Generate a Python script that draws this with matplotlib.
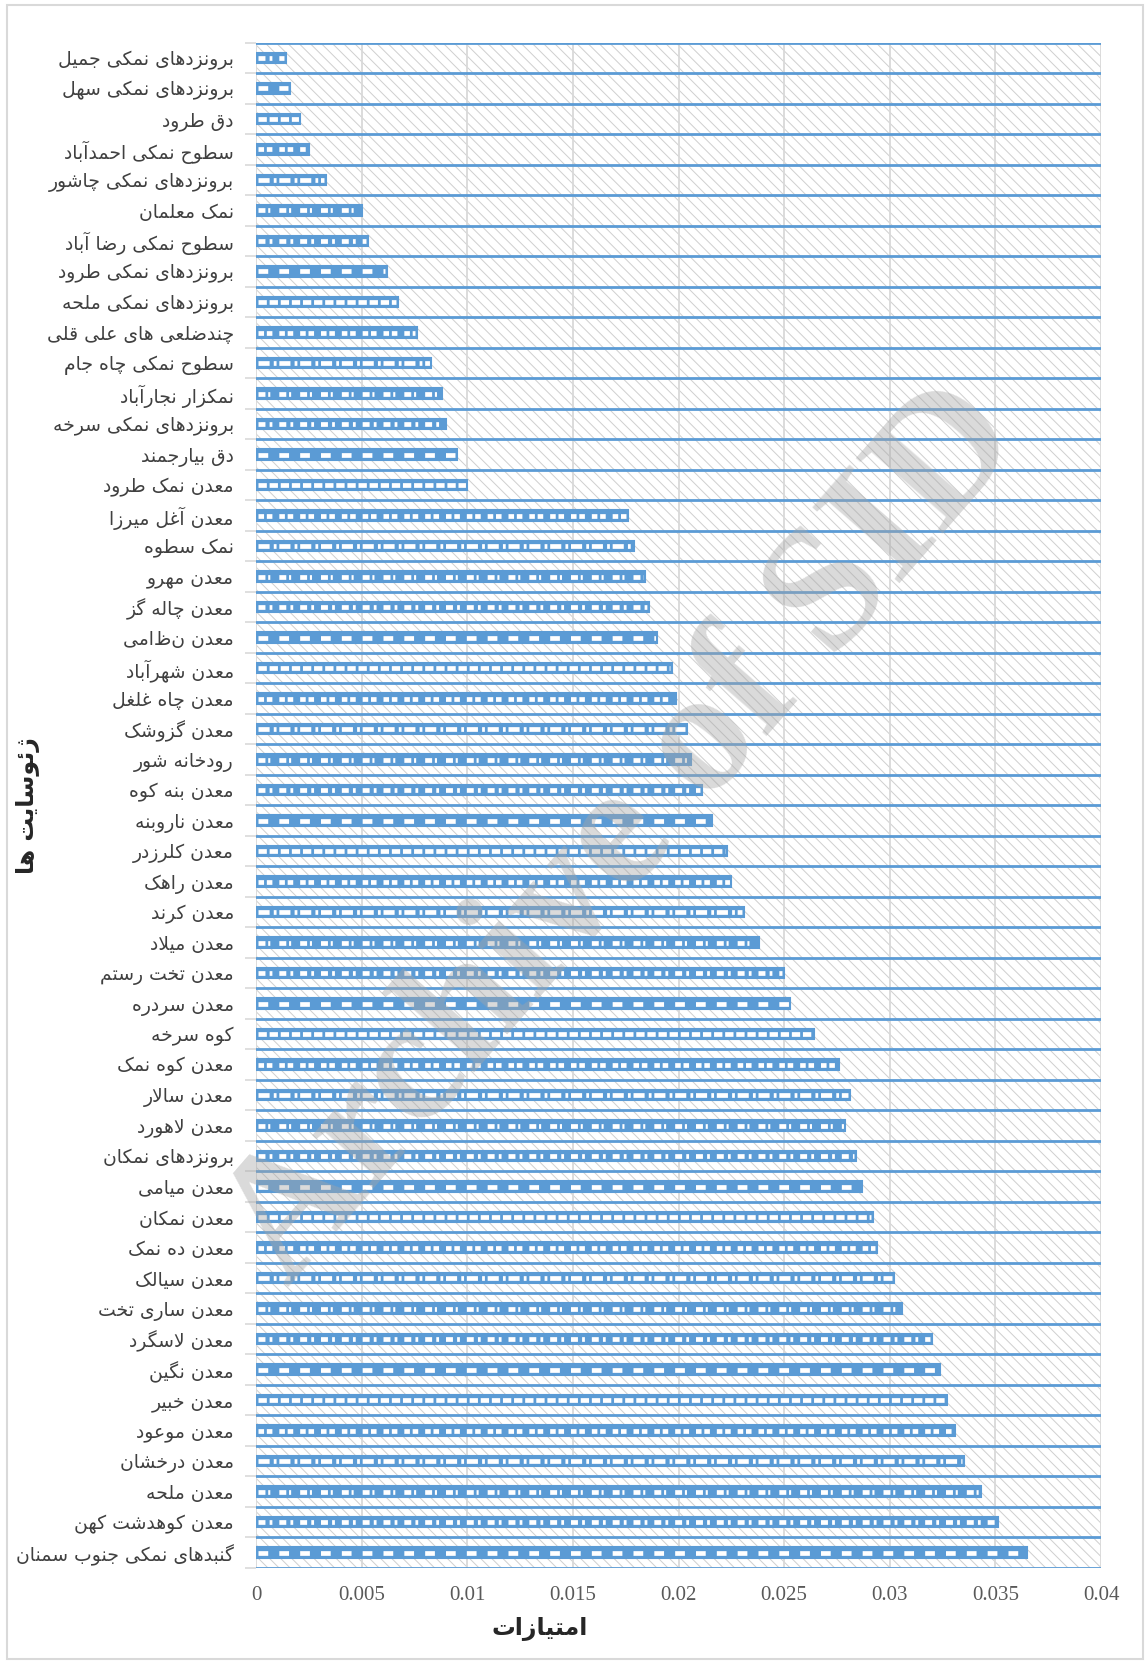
import matplotlib
matplotlib.use('Agg')
import matplotlib.pyplot as plt
from matplotlib.patches import Rectangle
from matplotlib.ticker import FixedLocator

# site names, top to bottom as in the chart
sites = [
    'برونزدهای نمکی جمیل', 'برونزدهای نمکی سهل', 'دق طرود', 'سطوح نمکی احمدآباد',
    'برونزدهای نمکی چاشور', 'نمک معلمان', 'سطوح نمکی رضا آباد', 'برونزدهای نمکی طرود',
    'برونزدهای نمکی ملحه', 'چندضلعی های علی قلی', 'سطوح نمکی چاه جام', 'نمکزار نجارآباد',
    'برونزدهای نمکی سرخه', 'دق بیارجمند', 'معدن نمک طرود', 'معدن آغل میرزا',
    'نمک سطوه', 'معدن مهرو', 'معدن چاله گز', 'معدن نظامی', 'معدن شهرآباد',
    'معدن چاه غلغل', 'معدن گزوشک', 'رودخانه شور', 'معدن بنه کوه', 'معدن ناروبنه',
    'معدن کلرزدر', 'معدن راهک', 'معدن کرند', 'معدن میلاد', 'معدن تخت رستم',
    'معدن سردره', 'کوه سرخه', 'معدن کوه نمک', 'معدن سالار', 'معدن لاهورد',
    'برونزدهای نمکان', 'معدن میامی', 'معدن نمکان', 'معدن ده نمک', 'معدن سیالک',
    'معدن ساری تخت', 'معدن لاسگرد', 'معدن نگین', 'معدن خبیر', 'معدن موعود',
    'معدن درخشان', 'معدن ملحه', 'معدن کوهدشت کهن', 'گنبدهای نمکی جنوب سمنان',
]
scores = [
    0.0014, 0.0016, 0.0021, 0.0025, 0.0033, 0.0050, 0.0053, 0.0062, 0.0067, 0.0076,
    0.0083, 0.0088, 0.0090, 0.0095, 0.0100, 0.0176, 0.0179, 0.0184, 0.0186, 0.0190,
    0.0197, 0.0199, 0.0204, 0.0206, 0.0211, 0.0216, 0.0223, 0.0225, 0.0231, 0.0238,
    0.0250, 0.0253, 0.0264, 0.0276, 0.0281, 0.0279, 0.0284, 0.0287, 0.0292, 0.0294,
    0.0302, 0.0306, 0.0320, 0.0324, 0.0327, 0.0331, 0.0335, 0.0343, 0.0351, 0.0365,
]
xticks = [0, 0.005, 0.01, 0.015, 0.02, 0.025, 0.03, 0.035, 0.04]
xtick_labels = ['0', '0.005', '0.01', '0.015', '0.02', '0.025', '0.03', '0.035', '0.04']
xlabel = 'امتیازات'
ylabel = 'ژئوسایت ها'

# matplotlib does no arabic shaping, so pick presentation forms by hand
# (isolated, final, initial, medial) - two entries = joins only to the right
FORMS = {
    'ء': ('\ufe80',),
    'آ': ('\ufe81', '\ufe82'),
    'ئ': ('\ufe89', '\ufe8a', '\ufe8b', '\ufe8c'),
    'ا': ('\ufe8d', '\ufe8e'),
    'ب': ('\ufe8f', '\ufe90', '\ufe91', '\ufe92'),
    'پ': ('\ufb56', '\ufb57', '\ufb58', '\ufb59'),
    'ت': ('\ufe95', '\ufe96', '\ufe97', '\ufe98'),
    'ج': ('\ufe9d', '\ufe9e', '\ufe9f', '\ufea0'),
    'چ': ('\ufb7a', '\ufb7b', '\ufb7c', '\ufb7d'),
    'ح': ('\ufea1', '\ufea2', '\ufea3', '\ufea4'),
    'خ': ('\ufea5', '\ufea6', '\ufea7', '\ufea8'),
    'د': ('\ufea9', '\ufeaa'),
    'ر': ('\ufead', '\ufeae'),
    'ز': ('\ufeaf', '\ufeb0'),
    'ژ': ('\ufb8a', '\ufb8b'),
    'س': ('\ufeb1', '\ufeb2', '\ufeb3', '\ufeb4'),
    'ش': ('\ufeb5', '\ufeb6', '\ufeb7', '\ufeb8'),
    'ض': ('\ufebd', '\ufebe', '\ufebf', '\ufec0'),
    'ط': ('\ufec1', '\ufec2', '\ufec3', '\ufec4'),
    'ع': ('\ufec9', '\ufeca', '\ufecb', '\ufecc'),
    'غ': ('\ufecd', '\ufece', '\ufecf', '\ufed0'),
    'ق': ('\ufed5', '\ufed6', '\ufed7', '\ufed8'),
    'ک': ('\ufb8e', '\ufb8f', '\ufb90', '\ufb91'),
    'گ': ('\ufb92', '\ufb93', '\ufb94', '\ufb95'),
    'ل': ('\ufedd', '\ufede', '\ufedf', '\ufee0'),
    'م': ('\ufee1', '\ufee2', '\ufee3', '\ufee4'),
    'ن': ('\ufee5', '\ufee6', '\ufee7', '\ufee8'),
    'ه': ('\ufee9', '\ufeea', '\ufeeb', '\ufeec'),
    'و': ('\ufeed', '\ufeee'),
    'ی': ('\ufbfc', '\ufbfd', '\ufbfe', '\ufbff'),
    '\ufefb': ('\ufefb', '\ufefc'),
}


def shape(s):
    s = s.replace('لا', '\ufefb')
    out = []
    for i, ch in enumerate(s):
        f = FORMS.get(ch)
        if f is None:
            out.append(ch)
            continue
        prev = s[i - 1] if i > 0 else ''
        nxt = s[i + 1] if i + 1 < len(s) else ''
        jp = prev in FORMS and len(FORMS[prev]) == 4
        jn = len(f) == 4 and nxt in FORMS and len(FORMS[nxt]) > 1
        if jp and jn:
            out.append(f[3])
        elif jp:
            out.append(f[1])
        elif jn:
            out.append(f[2])
        else:
            out.append(f[0])
    return ''.join(reversed(out))


blue = '#5B9BD5'
grey = '#D9D9D9'
# white dash patterns inside the bars (points)
dash_styles = [(5, 3, 2, 5), (7, 8), (6, 2), (4, 2, 4, 5), (8, 3, 2, 2), (5, 2, 1.5, 6.5)]

plt.rcParams['lines.scale_dashes'] = False
plt.rcParams['hatch.linewidth'] = 0.7

fig = plt.figure(figsize=(11.48, 16.62), dpi=100)
ax = fig.add_axes([0.2230, 0.0566, 0.7361, 0.9177])

ypos = list(range(len(sites)))
ax.barh(ypos, scores, height=0.34, color=blue, linewidth=0, zorder=3)
for i, (y, v) in enumerate(zip(ypos, scores)):
    ax.plot([0.00008, v - 0.00008], [y, y], color='white', linewidth=3.4,
            dashes=dash_styles[i % len(dash_styles)], solid_capstyle='butt',
            dash_capstyle='butt', zorder=3.5)
ax.barh(ypos, scores, height=0.34, fill=False, edgecolor=blue, linewidth=1.5, zorder=4)

# hatched plot background
ax.add_patch(Rectangle((0, 0), 1, 1, transform=ax.transAxes, facecolor='white',
                       edgecolor='#CFCFCF', hatch='\\\\\\', linewidth=0, zorder=0.1))

ax.set_xlim(0, 0.04)
ax.set_ylim(len(sites) - 0.5, -0.5)
ax.set_xticks(xticks)
ax.set_xticklabels(xtick_labels, fontfamily='Liberation Serif', fontsize=15, color='#595959')
ax.set_yticks(ypos)
ax.set_yticklabels([shape(s) for s in sites], fontfamily='DejaVu Sans', fontsize=13.5, color='#404040')
ax.yaxis.set_minor_locator(FixedLocator([i - 0.5 for i in range(len(sites) + 1)]))
ax.tick_params(axis='x', length=0, pad=13)
ax.tick_params(axis='y', which='major', length=0, pad=16)
ax.tick_params(axis='y', which='minor', length=8, color=grey, width=1.2)

ax.set_axisbelow(True)
ax.grid(axis='x', color=grey, linewidth=1.3, zorder=0.5)
ax.grid(axis='y', which='minor', color=blue, linewidth=2, zorder=2)
for sp in ax.spines.values():
    sp.set_visible(False)

fig.text(0.470, 0.0199, shape(xlabel), ha='center', va='center', fontsize=17,
         fontweight='bold', color='#262626')
fig.text(0.024, 0.5156, shape(ylabel), ha='center', va='center', rotation=90,
         fontsize=17, fontweight='bold', color='#262626')

# watermark
fig.text(0.544, 0.497, 'Archive of SID', ha='center', va='center', rotation=49,
         rotation_mode='anchor', fontfamily='Liberation Serif', fontsize=127,
         fontweight='bold', color='#A6A6A6', alpha=0.42, zorder=10)

# outer chart border
fig.add_artist(Rectangle((7 / 1148, 3 / 1662), 1136 / 1148, 1654 / 1662,
                         transform=fig.transFigure, fill=False, edgecolor=grey, linewidth=1.5))

fig.savefig('out.png', dpi=100)
